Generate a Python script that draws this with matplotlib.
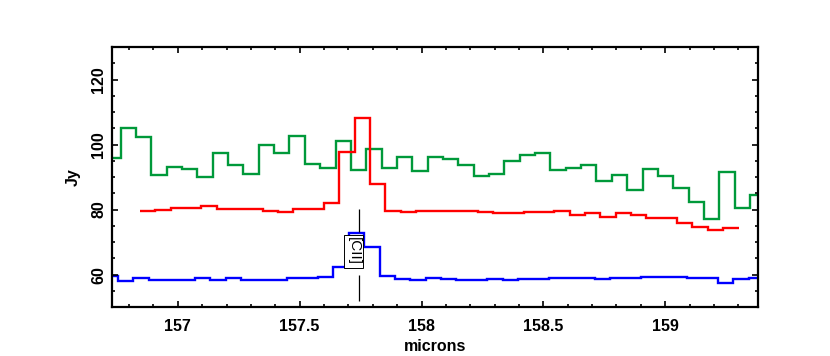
import matplotlib
matplotlib.use("Agg")
import matplotlib.pyplot as plt
from matplotlib.ticker import MultipleLocator

plt.rcParams['font.family'] = ['Liberation Sans', 'DejaVu Sans']

# bin edges (microns) and flux (Jy) for the three spectra
green_edges = [156.702, 156.765, 156.828, 156.891, 156.954, 157.017, 157.080, 157.143,
               157.206, 157.269, 157.332, 157.395, 157.458, 157.521, 157.584, 157.647,
               157.710, 157.773, 157.836, 157.899, 157.962, 158.025, 158.088, 158.151,
               158.214, 158.277, 158.340, 158.403, 158.466, 158.529, 158.592, 158.655,
               158.718, 158.781, 158.844, 158.907, 158.970, 159.033, 159.096, 159.159,
               159.222, 159.285, 159.348, 159.411]
green_flux = [95.8, 105.1, 102.2, 90.6, 93.2, 92.6, 90.1, 97.4, 93.6, 91.0,
              100.0, 97.5, 102.6, 93.9, 92.9, 101.0, 92.3, 98.6, 92.7, 96.1,
              92.0, 96.2, 95.5, 93.7, 90.4, 91.0, 94.8, 96.8, 97.4, 92.3,
              92.7, 93.6, 88.9, 90.7, 86.1, 92.6, 90.2, 86.5, 82.4, 77.1,
              91.7, 80.5, 84.6]

red_edges = [156.844, 156.907, 156.970, 157.033, 157.096, 157.159, 157.222, 157.285,
             157.348, 157.411, 157.474, 157.537, 157.600, 157.663, 157.726, 157.789,
             157.852, 157.915, 157.978, 158.041, 158.104, 158.167, 158.230, 158.293,
             158.356, 158.419, 158.482, 158.545, 158.608, 158.671, 158.734, 158.797,
             158.860, 158.923, 158.986, 159.049, 159.112, 159.175, 159.238, 159.301]
red_flux = [79.5, 80.0, 80.5, 80.5, 81.2, 80.1, 80.1, 80.1, 79.5, 79.3,
            80.1, 80.1, 82.0, 97.6, 108.1, 87.9, 79.7, 79.2, 79.5, 79.5,
            79.5, 79.7, 79.3, 79.0, 79.0, 79.2, 79.3, 79.7, 78.4, 79.0,
            77.7, 79.0, 78.2, 77.4, 77.4, 75.9, 74.8, 73.6, 74.2]

blue_edges = [156.692, 156.755, 156.818, 156.881, 156.944, 157.007, 157.071, 157.134,
              157.197, 157.260, 157.323, 157.386, 157.449, 157.512, 157.575, 157.638,
              157.702, 157.765, 157.828, 157.891, 157.954, 158.017, 158.080, 158.143,
              158.206, 158.269, 158.333, 158.396, 158.459, 158.522, 158.585, 158.648,
              158.711, 158.774, 158.837, 158.900, 158.964, 159.027, 159.090, 159.153,
              159.216, 159.279, 159.342, 159.405]
blue_flux = [59.5, 58.0, 58.9, 58.5, 58.5, 58.5, 59.1, 58.5, 58.9, 58.5,
             58.5, 58.5, 58.9, 58.9, 59.3, 62.4, 72.9, 68.4, 59.6, 58.8,
             58.3, 59.1, 58.7, 58.3, 58.3, 58.8, 58.3, 58.8, 58.8, 59.1,
             59.1, 59.1, 58.7, 59.1, 59.1, 59.4, 59.4, 59.4, 58.9, 58.9,
             57.4, 58.7, 59.1]

cii_wave = 157.742
cii_label = "[CII]"

fig = plt.figure(figsize=(8.3, 3.56), dpi=100)
ax = fig.add_axes([0.135, 0.138, 0.778, 0.730])

ax.stairs(green_flux, green_edges, baseline=None, color='#00993a', lw=1.7)
ax.stairs(red_flux, red_edges, baseline=None, color='#ff0000', lw=1.7)
ax.stairs(blue_flux, blue_edges, baseline=None, color='#0000ff', lw=1.7)

# line marker
ax.vlines(cii_wave, 73.2, 80.3, color='black', lw=0.9)
ax.vlines(cii_wave, 51.8, 59.9, color='black', lw=0.9)
ax.text(cii_wave - 0.02, 67.2, cii_label, rotation=-90, ha='center', va='center',
        fontsize=11, bbox=dict(boxstyle='square,pad=0.15', fc='white', ec='black', lw=0.7))

ax.set_xlim(156.73, 159.38)
ax.set_ylim(50.1, 130)
ax.set_xticks([157, 157.5, 158, 158.5, 159])
ax.set_xticklabels(['157', '157.5', '158', '158.5', '159'])
ax.set_yticks([60, 80, 100, 120])
ax.xaxis.set_minor_locator(MultipleLocator(0.1))
ax.yaxis.set_minor_locator(MultipleLocator(5))
ax.tick_params(which='both', direction='in', top=True, right=True, width=1.2)
ax.tick_params(which='major', length=4)
ax.tick_params(which='minor', length=2)
ax.tick_params(axis='x', pad=9, labelsize=11.5)
ax.tick_params(axis='y', pad=4, labelsize=11.5)
for lab in ax.get_xticklabels() + ax.get_yticklabels():
    lab.set_fontweight('bold')
for lab in ax.get_yticklabels():
    lab.set_rotation(90)
    lab.set_va('center')
for sp in ax.spines.values():
    sp.set_linewidth(1.6)

ax.set_xlabel("microns", fontsize=11.5, fontweight='bold', labelpad=3)
ax.set_ylabel("Jy", fontsize=11.5, fontweight='bold', labelpad=8)

fig.savefig("out.png", dpi=100)
